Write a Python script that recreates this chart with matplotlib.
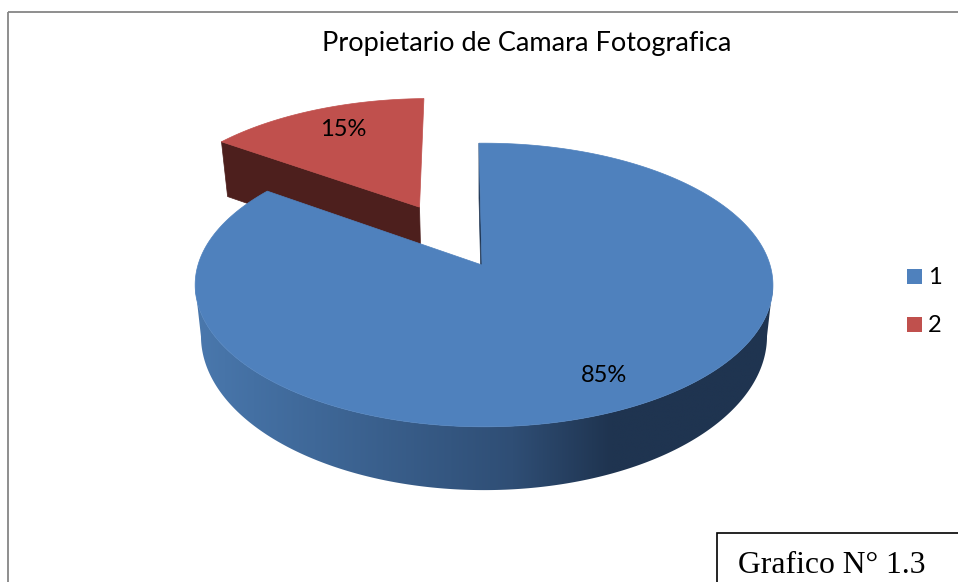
import numpy as np
import matplotlib
matplotlib.use('Agg')
import matplotlib.pyplot as plt
from matplotlib.colors import LinearSegmentedColormap
from matplotlib.patches import Polygon, Rectangle

# datos del grafico
title = 'Propietario de Camara Fotografica'
categories = ['1', '2']
shares = [85, 15]
caption = 'Grafico N° 1.3'

blue = '#4f81bd'
red = '#c0504d'
dark_red = '#4d1f1d'

start_deg = -0.7
explode = 0.5

# a, b, cy, k de cada plano
planes = {
    'top': (286, 139, 265, 0.1409),
    'bottom': (282, 153, 323, 0.0844),
    'bottom_red': (280, 143, 323, 0.1438),
}


# plano del circulo -> pixeles, con algo de perspectiva
def project(u, v, plane='top'):
    a, b, cy, k = planes[plane]
    den = 1 + k * v - 0.007 * u
    return 482 + a * u / den, cy - b * v / den


def unit(deg):
    r = np.radians(deg)
    return np.sin(r), np.cos(r)


def arc_points(d0, d1, dx=0, dy=0, plane='top'):
    u, v = unit(np.linspace(d0, d1, 600))
    x, y = project(u + dx, v + dy, plane)
    return np.column_stack([x, y])


def wedge_points(d0, d1, dx=0, dy=0, plane='top'):
    apex = np.array(project(dx, dy, plane))
    return np.vstack([apex, arc_points(d0, d1, dx, dy, plane)])


# solo el frente entre los extremos izquierdo y derecho de cada elipse
def front_arc(d0, d1, plane):
    pts = arc_points(d0, d1, plane=plane)
    i0, i1 = np.argmax(pts[:, 0]), np.argmin(pts[:, 0])
    return pts[i0:i1 + 1]


fig = plt.figure(figsize=(9.58, 5.82), dpi=100)
ax = fig.add_axes([0, 0, 1, 1])

# marco exterior
ax.add_patch(Rectangle((8, 12), 1000, 640, fill=False, ec='#868686', lw=1.3))

end_blue = start_deg + 360 * shares[0] / sum(shares)
end_red = start_deg + 360

# porcion roja separada
mid = (end_blue + end_red) / 2
ex, ey = unit(mid)
ex, ey = ex * explode, ey * explode
cu, cv = unit(end_blue)
side_red = [project(ex, ey), project(ex + cu, ey + cv),
            project(ex + cu, ey + cv, 'bottom_red'), project(ex, ey, 'bottom_red')]
ax.add_patch(Polygon(side_red, fc=dark_red, ec=dark_red, lw=0.5, zorder=2))
ax.add_patch(Polygon(wedge_points(end_blue, end_red, ex, ey), fc=red, ec=red, lw=0.5, zorder=3))

# cara interior fina de la porcion azul
inner = [project(0, 0), project(*unit(start_deg)),
         project(*unit(start_deg), 'bottom_red'), project(0, 0, 'bottom_red')]
ax.add_patch(Polygon(inner, fc='#1f3552', ec='#1f3552', lw=0.5, zorder=4))

# lateral azul con degradado
side_pts = np.vstack([front_arc(start_deg, end_blue, 'top'),
                      front_arc(start_deg, end_blue, 'bottom')[::-1]])
side = Polygon(side_pts, fc='none', ec='none', zorder=5)
ax.add_patch(side)
cmap = LinearSegmentedColormap.from_list('side', [
    (0.0, '#4a78ad'), (0.10, '#4470a3'), (0.55, '#2f4e75'),
    (0.72, '#1f3450'), (1.0, '#1f3450')])
grad = ax.imshow(np.linspace(0, 1, 256).reshape(1, -1), cmap=cmap, aspect='auto',
                 extent=(195, 773, 500, 250), interpolation='bilinear', zorder=5)
grad.set_clip_path(side)

ax.add_patch(Polygon(wedge_points(start_deg, end_blue), fc=blue, ec=blue, lw=0.5, zorder=6))

# textos
font = 'Lato'
ax.text(527, 43.5, title, ha='center', va='center', fontsize=19.5, family=font, color='black', zorder=7)
ax.text(604, 375, f'{shares[0]}%', ha='center', va='center', fontsize=17, family=font, zorder=7)
ax.text(343, 129, f'{shares[1]}%', ha='center', va='center', fontsize=17, family=font, zorder=7)

# leyenda
for i, (cat, col) in enumerate(zip(categories, [blue, red])):
    y = 269 + i * 48
    ax.add_patch(Rectangle((907, y), 15, 15, fc=col, ec='none', zorder=7))
    ax.text(928, y + 8, cat, ha='left', va='center', fontsize=17, family=font, zorder=7)

# recuadro del pie
ax.add_patch(Rectangle((717, 533), 400, 100, fc='white', ec='black', lw=1.2, zorder=8))
ax.text(738, 573, caption, ha='left', va='baseline', fontsize=22.8, family='Liberation Serif', zorder=9)

ax.set_xlim(0, 958)
ax.set_ylim(582, 0)
ax.axis('off')

fig.savefig('out.png', dpi=100)
